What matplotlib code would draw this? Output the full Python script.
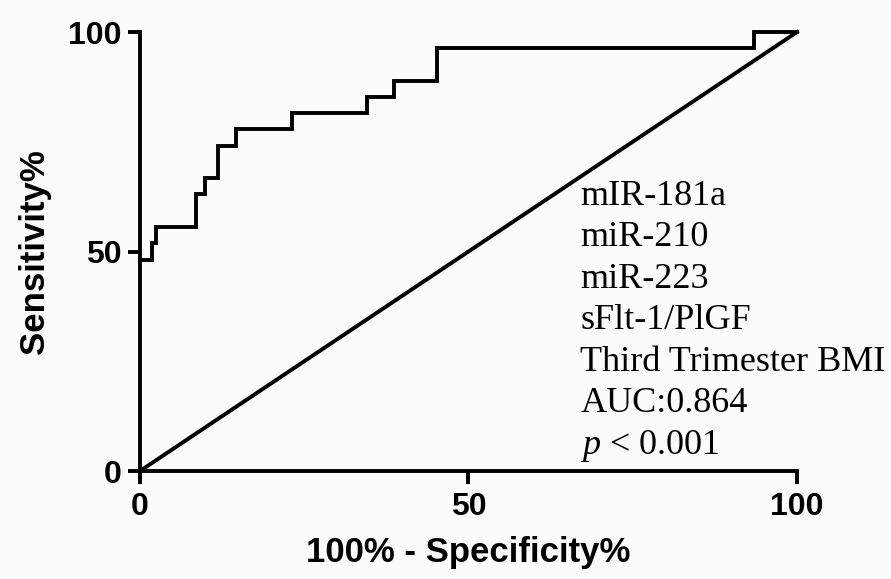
import matplotlib.pyplot as plt

plt.rcParams['mathtext.fontset'] = 'custom'
plt.rcParams['mathtext.it'] = 'Liberation Serif:italic'
plt.rcParams['mathtext.rm'] = 'Liberation Serif'

# ROC step curve (100% - specificity, sensitivity)
fpr = [0, 1.9, 1.9, 2.4, 2.4, 8.6, 8.6, 9.9, 9.9, 11.8, 11.8, 14.6, 14.6,
       23.2, 23.2, 34.5, 34.5, 38.6, 38.6, 45.2, 45.2, 93.4, 93.4, 100]
tpr = [48.1, 48.1, 51.9, 51.9, 55.6, 55.6, 63.0, 63.0, 66.7, 66.7, 74.1, 74.1, 77.8,
       77.8, 81.5, 81.5, 85.2, 85.2, 88.9, 88.9, 96.3, 96.3, 100, 100]
ref_x = [0, 100]
ref_y = [0, 100]
ticks = [0, 50, 100]
notes = ['mIR-181a', 'miR-210', 'miR-223', 'sFlt-1/PlGF',
         'Third Trimester BMI', 'AUC:0.864', r'$p$ < 0.001']

fig = plt.figure(figsize=(8.91, 5.79), dpi=100)
fig.patch.set_facecolor('#fbfbfb')
ax = fig.add_axes([0.1571, 0.1865, 0.7374, 0.7582])
ax.set_facecolor('#fbfbfb')

lw = 2.8
ax.plot(fpr, tpr, color='black', lw=lw, solid_joinstyle='miter', clip_on=False)
ax.plot(ref_x, ref_y, color='black', lw=lw, clip_on=False)

ax.set_xlim(0, 100)
ax.set_ylim(0, 100)
ax.set_xticks(ticks)
ax.set_yticks(ticks)
for s in ['top', 'right']:
    ax.spines[s].set_visible(False)
for s in ['left', 'bottom']:
    ax.spines[s].set_linewidth(lw)
ax.tick_params(width=lw, length=9, labelsize=23)
ax.tick_params(axis='x', pad=6)
ax.tick_params(axis='y', pad=4)
for lab in ax.get_xticklabels() + ax.get_yticklabels():
    lab.set_fontweight('bold')
    lab.set_fontfamily('Liberation Sans')

ax.set_xlabel('100% - Specificity%', fontsize=25, fontweight='bold',
              fontfamily='Liberation Sans')
ax.set_ylabel('Sensitivity%', fontsize=25, fontweight='bold',
              fontfamily='Liberation Sans')
ax.xaxis.set_label_coords(0.5, -0.148)
ax.yaxis.set_label_coords(-0.135, 0.5)

for i, t in enumerate(notes):
    ax.text(67.0, 60.6 - i * 9.45, t, fontsize=26, fontfamily='Liberation Serif',
            va='baseline', ha='left', clip_on=False)

fig.savefig('out.png', dpi=100, facecolor=fig.get_facecolor())
